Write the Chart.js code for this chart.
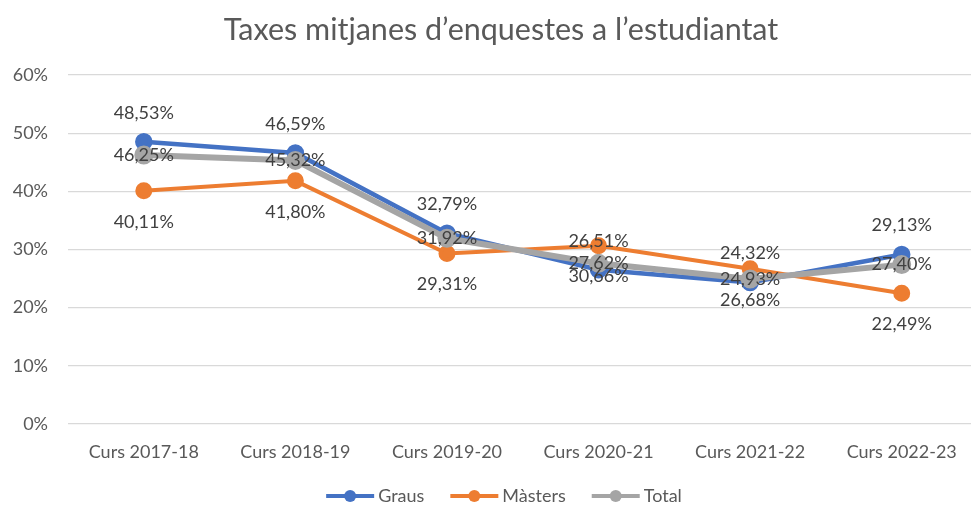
<!DOCTYPE html>
<html>
<head>
<meta charset="utf-8">
<script src="https://cdn.jsdelivr.net/npm/chart.js@4.4.1/dist/chart.umd.min.js"></script>
<style>
  html, body { margin: 0; padding: 0; background: #ffffff; overflow: hidden; width: 971px; height: 506px; }
  canvas { display: block; }
</style>
</head>
<body>
<canvas id="c" width="990" height="506"></canvas>
<script>
const categories = ['Curs 2017-18', 'Curs 2018-19', 'Curs 2019-20', 'Curs 2020-21', 'Curs 2021-22', 'Curs 2022-23'];
const graus   = [48.53, 46.59, 32.79, 26.51, 24.32, 29.13];
const masters = [40.11, 41.80, 29.31, 30.66, 26.68, 22.49];
const total   = [46.25, 45.32, 31.92, 27.62, 24.93, 27.40];
const yTicks  = [0, 10, 20, 30, 40, 50, 60];
const titleText = 'Taxes mitjanes d\u2019enquestes a l\u2019estudiantat';

const FONT = 'Lato';
const C_BLUE = '#4472C4', C_ORANGE = '#ED7D31', C_GRAY = '#A5A5A5';
const labelOffsets = [-29, 31, 0];

const dataLabels = {
  id: 'dataLabels',
  afterDatasetsDraw(chart) {
    const ctx = chart.ctx;
    ctx.save();
    ctx.font = '18px ' + FONT;
    ctx.fillStyle = '#404040';
    ctx.textAlign = 'center';
    ctx.textBaseline = 'middle';
    chart.data.datasets.forEach((ds, i) => {
      const meta = chart.getDatasetMeta(i);
      meta.data.forEach((pt, j) => {
        const txt = ds.data[j].toFixed(2).replace('.', ',') + '%';
        ctx.fillText(txt, pt.x, pt.y + labelOffsets[i]);
      });
    });
    ctx.restore();
  }
};

const titleAndLegend = {
  id: 'titleAndLegend',
  afterDraw(chart) {
    const ctx = chart.ctx;
    ctx.save();
    // title
    ctx.font = '30.5px ' + FONT;
    ctx.fillStyle = '#595959';
    ctx.textAlign = 'center';
    ctx.textBaseline = 'middle';
    ctx.fillText(titleText, 501, 30);
    // legend
    ctx.font = '18px ' + FONT;
    ctx.textAlign = 'left';
    const lineW = 48, gapTxt = 4, gapItem = 26, ly = 496;
    const items = chart.data.datasets.map(ds => ({ text: ds.label, color: ds.borderColor, w: ctx.measureText(ds.label).width }));
    let totalW = 0;
    items.forEach((it, i) => { totalW += lineW + gapTxt + it.w + (i < items.length - 1 ? gapItem : 0); });
    let x = 504 - totalW / 2;
    items.forEach(it => {
      ctx.strokeStyle = it.color; ctx.lineWidth = 4;
      ctx.beginPath(); ctx.moveTo(x, ly); ctx.lineTo(x + lineW, ly); ctx.stroke();
      ctx.fillStyle = it.color;
      ctx.beginPath(); ctx.arc(x + lineW / 2, ly, 6, 0, Math.PI * 2); ctx.fill();
      ctx.fillStyle = '#595959';
      ctx.fillText(it.text, x + lineW + gapTxt, ly);
      x += lineW + gapTxt + it.w + gapItem;
    });
    ctx.restore();
  }
};

new Chart(document.getElementById('c'), {
  type: 'line',
  data: {
    labels: categories,
    datasets: [
      { label: 'Graus', data: graus, borderColor: C_BLUE, backgroundColor: C_BLUE, borderWidth: 4.5,
        pointRadius: 6.5, pointBackgroundColor: C_BLUE, pointBorderColor: C_BLUE, order: 3, tension: 0 },
      { label: 'M\u00e0sters', data: masters, borderColor: C_ORANGE, backgroundColor: C_ORANGE, borderWidth: 4,
        pointRadius: 6.5, pointBackgroundColor: C_ORANGE, pointBorderColor: C_ORANGE, order: 2, tension: 0 },
      { label: 'Total', data: total, borderColor: C_GRAY, backgroundColor: C_GRAY, borderWidth: 6,
        pointRadius: 6.5, pointBackgroundColor: C_GRAY, pointBorderColor: C_GRAY, order: 1, tension: 0 }
    ]
  },
  options: {
    responsive: false,
    animation: false,
    events: [],
    layout: { padding: { left: 0, right: 2, top: 75, bottom: 30 } },
    plugins: {
      title: { display: false },
      legend: { display: false },
      tooltip: { enabled: false }
    },
    scales: {
      x: {
        offset: true,
        grid: { display: false, drawTicks: false },
        border: { display: false },
        afterFit(scale) { scale.height = 52; },
        ticks: { color: '#595959', font: { family: FONT, size: 18 }, padding: 17, maxRotation: 0 }
      },
      y: {
        min: 0, max: 60,
        afterBuildTicks(scale) { scale.ticks = yTicks.map(v => ({ value: v })); },
        afterFit(scale) { scale.width = 68; },
        grid: { color: '#D9D9D9', lineWidth: 1.3, drawTicks: false },
        border: { display: false },
        ticks: { color: '#595959', font: { family: FONT, size: 18 }, padding: 20,
                 callback: v => v + '%' }
      }
    }
  },
  plugins: [dataLabels, titleAndLegend]
});
</script>
</body>
</html>
